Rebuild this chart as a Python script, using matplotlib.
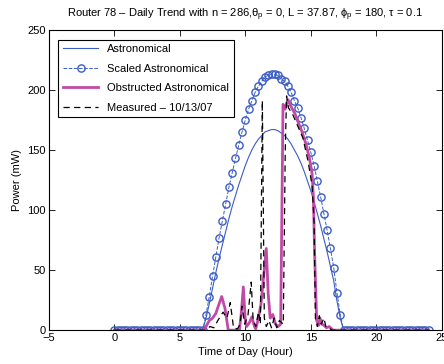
import numpy as np
import matplotlib
matplotlib.use("Agg")
import matplotlib.pyplot as plt

plt.rcParams["font.family"] = ["Liberation Sans", "DejaVu Sans"]
plt.rcParams["mathtext.fontset"] = "custom"
plt.rcParams["mathtext.rm"] = "Liberation Sans"
plt.rcParams["mathtext.it"] = "Liberation Sans:italic"

# 15-minute samples, 0..24 h
hours = np.arange(0, 24.01, 0.25)

astro = ([0] * 28 +
         [10, 22, 35, 48, 60, 71, 82, 93, 103, 112, 121, 129, 137, 144, 150,
          155, 159, 162, 165, 166, 167, 167, 166, 164, 162, 159, 155, 150,
          145, 139, 132, 124, 116, 107, 97, 87, 76, 65, 53, 41, 24, 10] +
         [0] * 27)

scaled = ([0] * 28 +
          [13, 28, 45, 61, 77, 91, 105, 119, 131, 143, 154, 165, 175, 184,
           191, 198, 203, 207, 211, 212, 213, 213, 212, 209, 207, 203, 198,
           191, 185, 177, 168, 158, 148, 137, 124, 111, 97, 83, 68, 52, 31,
           13] +
          [0] * 27)

obs_t = [0, 6.8, 7.0, 7.25, 7.5, 7.75, 8.0, 8.2, 8.45, 8.7, 9.55, 9.7, 9.85,
         10.0, 10.1, 10.3, 10.5, 10.7, 10.8, 11.0, 11.2, 11.4, 11.6, 11.75,
         11.9, 12.1, 12.3, 12.5, 12.7, 12.88, 13.05, 13.25, 13.5, 13.8, 14.0,
         14.3, 14.6, 14.9, 15.1, 15.2, 15.3, 15.45, 15.6, 15.7, 15.85, 16.0,
         16.2, 16.4, 16.7, 24]
obs_p = [0, 0, 3, 8, 10, 14, 22, 28, 18, 0, 0, 15, 36,
         8, 3, 6, 11, 3, 1, 10, 22, 45, 68, 30,
         10, 13, 5, 3, 5, 188, 184, 192, 186, 180, 174,
         166, 156, 143, 130, 110, 60, 8, 4, 10, 5, 4,
         2, 3, 0, 0]

meas_t = [0, 7.0, 7.3, 7.6, 7.9, 8.3, 8.6, 8.85, 9.1, 9.4, 9.6, 9.75, 9.95,
          10.2, 10.45, 10.6, 10.8, 11.0, 11.15, 11.3, 11.45, 11.6, 11.8, 12.0,
          12.2, 12.4, 12.6, 12.9, 13.05, 13.15, 13.3, 13.6, 14.0, 14.4, 14.8,
          15.1, 15.25, 15.35, 15.5, 15.65, 15.8, 16.0, 16.15, 16.4, 16.6, 24]
meas_p = [0, 0, 3, 2, 8, 15, 10, 23, 2, 1, 5, 20, 5,
          12, 40, 8, 3, 15, 5, 191, 10, 3, 8, 2,
          10, 2, 8, 5, 150, 195, 185, 180, 170, 160, 140,
          120, 90, 10, 3, 12, 5, 10, 3, 2, 0, 0]

fig = plt.figure(figsize=(4.44, 3.64), dpi=100)
ax = fig.add_axes([0.110, 0.093, 0.885, 0.825])

blue = "#3b5cc4"
ax.plot(hours, astro, "-", color=blue, lw=0.8, label="Astronomical")
ax.plot(hours, scaled, "--o", color=blue, lw=0.7, ms=5.2, mfc="none",
        mew=1.0, label="Scaled Astronomical")
ax.plot(obs_t, obs_p, "-", color="#c04aa6", lw=2.0,
        label="Obstructed Astronomical")
ax.plot(meas_t, meas_p, color="black", lw=0.9, dashes=(5, 3.5),
        label="Measured \u2013 10/13/07")

ax.set_xlim(-5, 25)
ax.set_ylim(0, 250)
ax.set_xticks(range(-5, 26, 5))
ax.set_yticks(range(0, 251, 50))
ax.set_xticklabels(["\u22125"] + [str(v) for v in range(0, 26, 5)])
ax.tick_params(direction="in", top=True, right=True, labelsize=8,
               length=4, width=0.6, pad=2)
for s in ax.spines.values():
    s.set_linewidth(0.8)

ax.set_xlabel("Time of Day (Hour)", fontsize=8, labelpad=3)
ax.set_ylabel("Power (mW)", fontsize=8, labelpad=4)
ax.set_title("Router 78 \u2013 Daily Trend with n = 286,"
             r"$\mathregular{\theta_p}$ = 0, L = 37.87, "
             r"$\mathregular{\phi_p}$ = 180, $\mathregular{\tau}$ = 0.1",
             fontsize=8, pad=9)

leg = ax.legend(loc="upper left", fontsize=8, fancybox=False,
                edgecolor="black", framealpha=1, borderpad=0.4,
                handlelength=3.2, labelspacing=0.85,
                bbox_to_anchor=(0.01, 0.985))
leg.get_frame().set_linewidth(0.8)

fig.savefig("out.png", dpi=100)
